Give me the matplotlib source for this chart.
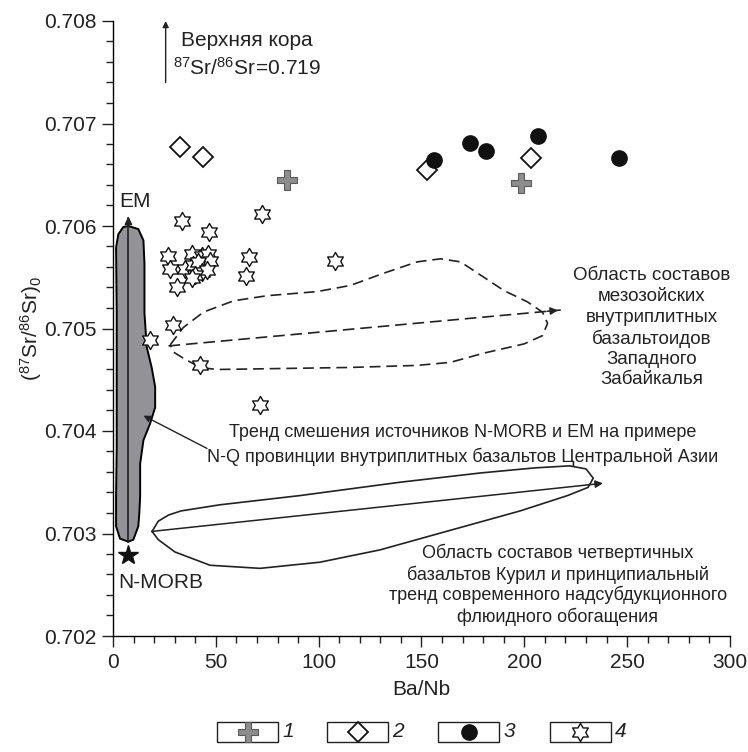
import matplotlib
matplotlib.use("Agg")
import matplotlib.pyplot as plt
from matplotlib.path import Path
from matplotlib.patches import Rectangle
from matplotlib.lines import Line2D
from matplotlib.ticker import MultipleLocator

plt.rcParams['font.family'] = ['Liberation Sans', 'DejaVu Sans']
plt.rcParams['mathtext.fontset'] = 'custom'
plt.rcParams['mathtext.rm'] = 'Liberation Sans'
plt.rcParams['mathtext.it'] = 'Liberation Sans:italic'
plt.rcParams['mathtext.bf'] = 'Liberation Sans:bold'

# ---------------- data ----------------
# 1: crosses
g1_x = [84.6, 198.6]
g1_y = [0.70645, 0.70642]
# 2: diamonds
g2_x = [32.6, 43.7, 152.8, 203.1]
g2_y = [0.70677, 0.70667, 0.70655, 0.70666]
# 3: filled circles
g3_x = [156.2, 173.6, 181.4, 206.7, 246.1]
g3_y = [0.70664, 0.70681, 0.70673, 0.70688, 0.70666]
# 4: stars
g4_x = [72.4, 33.5, 46.9, 65.9, 64.6, 107.8, 26.9, 27.8, 31.0, 38.3, 43.2, 46.4,
        47.2, 35.1, 39.1, 41.5, 43.2, 45.6, 39.9, 38.3, 29.4, 18.0, 42.4, 71.6]
g4_y = [0.70612, 0.70605, 0.70594, 0.70570, 0.70551, 0.70566, 0.70571, 0.70558,
        0.70540, 0.70573, 0.70571, 0.70573, 0.70566, 0.70558, 0.70562, 0.70565,
        0.70555, 0.70557, 0.70552, 0.70549, 0.70503, 0.70489, 0.70464, 0.70425]
# N-MORB
nmorb_x = [7.5]
nmorb_y = [0.70279]

# mixing field (grey)
mix_x = [7.5, 12.3, 14.8, 15.3, 15.3, 16.4, 18.8, 20.5, 20.5, 18.0, 14.8, 13.2,
         13.2, 12.8, 12.3, 9.9, 7.5, 3.4, 1.5, 1.5, 1.8, 1.8, 1.5, 2.6, 5.0]
mix_y = [0.70600, 0.70597, 0.70586, 0.70563, 0.70515, 0.70482, 0.70462, 0.70443,
         0.70423, 0.70407, 0.70391, 0.70368, 0.70336, 0.70320, 0.70307, 0.70294,
         0.70292, 0.70295, 0.70307, 0.70336, 0.70384, 0.70515, 0.70579, 0.70592,
         0.70599]
mix_trend_x = [7.5, 7.5]
mix_trend_y = [0.70292, 0.70612]

# Mesozoic field (dashed)
mes_x = [27.8, 34.2, 44.0, 58.6, 74.9, 99.2, 115.4, 131.7, 147.9, 159.3, 169.0,
         178.8, 190.1, 201.5, 208.8, 211.3, 208.8, 199.9, 180.4, 164.1, 147.9,
         115.4, 83.0, 50.5, 42.4, 34.2, 29.4, 27.8]
mes_y = [0.70484, 0.70501, 0.70516, 0.70527, 0.70532, 0.70536, 0.70542, 0.70554,
         0.70565, 0.70568, 0.70565, 0.70552, 0.70537, 0.70526, 0.70516, 0.70505,
         0.70493, 0.70485, 0.70476, 0.70467, 0.70464, 0.70462, 0.70461, 0.70460,
         0.70462, 0.70471, 0.70477, 0.70484]
mes_trend_x = [27.0, 217.7]
mes_trend_y = [0.70483, 0.70518]

# Kuril field (solid)
kur_x = [19.0, 22.0, 27.0, 33.0, 52.0, 90.9, 139.5, 178.4, 205.0, 222.0, 230.0,
         233.5, 231.0, 221.0, 197.9, 163.8, 129.8, 100.6, 71.5, 47.2, 30.1, 22.0, 19.0]
kur_y = [0.70302, 0.70312, 0.70318, 0.70322, 0.70328, 0.70337, 0.70350, 0.70359,
         0.70364, 0.70366, 0.70363, 0.70354, 0.70345, 0.70337, 0.70322, 0.70303,
         0.70284, 0.70272, 0.70266, 0.70269, 0.70282, 0.70294, 0.70302]
kur_trend_x = [18.8, 238.2]
kur_trend_y = [0.70302, 0.70349]

x_ticks = [0, 50, 100, 150, 200, 250, 300]
y_ticks = [0.702, 0.703, 0.704, 0.705, 0.706, 0.707, 0.708]
y_ticklabels = ['0.702', '0.703', '0.704', '0.705', '0.706', '0.707', '0.708']
legend_labels = ['1', '2', '3', '4']

# ---------------- figure ----------------
W, H = 748, 752
fig = plt.figure(figsize=(W / 100, H / 100), dpi=100)
ax = fig.add_axes([113 / W, 1 - 636 / H, (730 - 113) / W, (636 - 21) / H])
ax.set_xlim(0, 300)
ax.set_ylim(0.702, 0.708)
for s in ['top', 'right']:
    ax.spines[s].set_visible(False)
for s in ['left', 'bottom']:
    ax.spines[s].set_linewidth(1.0)
ax.set_xticks(x_ticks)
ax.set_yticks(y_ticks)
ax.set_yticklabels(y_ticklabels)
ax.xaxis.set_minor_locator(MultipleLocator(10))
ax.yaxis.set_minor_locator(MultipleLocator(0.0002))
ax.tick_params(which='major', direction='out', length=8, width=1.0, labelsize=15, pad=4,
               colors='#222222')
ax.tick_params(which='minor', direction='out', length=5, width=1.0, colors='#222222')
ax.set_xlabel('Ba/Nb', fontsize=15, labelpad=6, color='#222222')
ax.set_ylabel(r'$(^{87}\mathrm{Sr}/^{86}\mathrm{Sr})_0$', fontsize=15, color='#222222')
ax.yaxis.set_label_coords(-0.112, 0.5)

# mixing field
ax.fill(mix_x, mix_y, facecolor='#939397', edgecolor='black', lw=1.4, zorder=2)
ax.plot(mix_trend_x, [mix_trend_y[0], mix_trend_y[1] - 0.00004], color='#222222', lw=1.2, zorder=3)
ax.annotate('', xy=(mix_trend_x[1], mix_trend_y[1]),
            xytext=(mix_trend_x[1], mix_trend_y[1] - 0.00010),
            arrowprops=dict(arrowstyle='-|>', color='#222222', lw=1.2, mutation_scale=11), zorder=3)

# mesozoic dashed field
ax.plot(mes_x, mes_y, color='#222222', lw=1.2, ls=(0, (6.5, 3.5)), zorder=2)
ax.plot(mes_trend_x, mes_trend_y, color='#222222', lw=1.2, ls=(0, (7, 3.5)), zorder=2)
ax.annotate('', xy=(mes_trend_x[1], mes_trend_y[1]),
            xytext=(mes_trend_x[1] - 8, mes_trend_y[1] - 0.0000147),
            arrowprops=dict(arrowstyle='-|>', color='#222222', lw=1.1, mutation_scale=11), zorder=2)

# Kuril field
ax.plot(kur_x, kur_y, color='#222222', lw=1.2, zorder=2)
ax.annotate('', xy=(kur_trend_x[1], kur_trend_y[1]),
            xytext=(kur_trend_x[0], kur_trend_y[0]),
            arrowprops=dict(arrowstyle='-|>', color='#222222', lw=1.1, mutation_scale=11,
                            shrinkA=0, shrinkB=0), zorder=2)

# markers
star6 = Path.unit_regular_star(6, 0.58)
ax.plot(g4_x, g4_y, ls='none', marker=star6, ms=13, mfc='white', mec='#111111', mew=1.0, zorder=5)
ax.plot(g2_x, g2_y, ls='none', marker='D', ms=10, mfc='white', mec='#111111', mew=1.3, zorder=6)
ax.plot(g3_x, g3_y, ls='none', marker='o', ms=11, mfc='#111111', mec='#111111', zorder=7)
ax.plot(g1_x, g1_y, ls='none', marker='P', ms=14, mfc='#8d8d8d', mec='#5a5a5a', mew=0.8, zorder=7)
ax.plot(nmorb_x, nmorb_y, ls='none', marker='*', ms=15, mfc='#111111', mec='#111111', zorder=7)

# annotations
ax.annotate('', xy=(25.6, 0.70800), xytext=(25.6, 0.70740),
            arrowprops=dict(arrowstyle='-|>', color='#222222', lw=1.0, mutation_scale=9,
                            shrinkA=0, shrinkB=0))
ax.text(65, 0.70781, 'Верхняя кора', fontsize=15, ha='center', va='center', color='#222222')
ax.text(65, 0.70754, r'$^{87}\mathrm{Sr}/^{86}\mathrm{Sr}\!=\!0.719$', fontsize=15, ha='center', va='center', color='#222222')
ax.text(10.7, 0.70624, 'EM', fontsize=15, ha='center', va='center', color='#222222')
ax.text(23.0, 0.70252, 'N-MORB', fontsize=15, ha='center', va='center', color='#222222')

mes_lines = ['Область составов', 'мезозойских', 'внутриплитных', 'базальтоидов',
             'Западного', 'Забайкалья']
mes_text_y = [0.70552, 0.70531, 0.70511, 0.70490, 0.70470, 0.70450]
for t, yy in zip(mes_lines, mes_text_y):
    ax.text(262, yy, t, fontsize=13.5, ha='center', va='center', color='#222222', clip_on=False)

ax.text(170, 0.70399, 'Тренд смешения источников N-MORB и EM на примере',
        fontsize=13, ha='center', va='center', color='#222222')
ax.text(170, 0.70375, 'N-Q провинции внутриплитных базальтов Центральной Азии',
        fontsize=13, ha='center', va='center', color='#222222')
ax.annotate('', xy=(14.8, 0.70415), xytext=(45.7, 0.70383),
            arrowprops=dict(arrowstyle='-|>', color='#222222', lw=1.0, mutation_scale=10,
                            shrinkA=0, shrinkB=0))

kur_lines = ['Область составов четвертичных', 'базальтов Курил и принципиальный',
             'тренд современного надсубдукционного', 'флюидного обогащения']
kur_text_y = [0.70281, 0.70260, 0.70240, 0.70219]
for t, yy in zip(kur_lines, kur_text_y):
    ax.text(216.3, yy, t, fontsize=13, ha='center', va='center', color='#222222')

# legend boxes
box_cx = [247.5, 357.5, 469.0, 580.0]
box_w, box_h, box_cy = 61, 20, 731.5
leg_styles = [
    dict(marker='P', ms=14, mfc='#8d8d8d', mec='#5a5a5a', mew=0.8),
    dict(marker='D', ms=10, mfc='white', mec='#111111', mew=1.3),
    dict(marker='o', ms=11, mfc='#111111', mec='#111111'),
    dict(marker=star6, ms=13, mfc='white', mec='#111111', mew=1.0),
]
for cx, lab, st in zip(box_cx, legend_labels, leg_styles):
    fig.add_artist(Rectangle(((cx - box_w / 2) / W, 1 - (box_cy + box_h / 2) / H),
                             box_w / W, box_h / H, transform=fig.transFigure,
                             fill=False, edgecolor='#222222', lw=1.0))
    fig.add_artist(Line2D([cx / W], [1 - box_cy / H], transform=fig.transFigure, ls='none', **st))
    fig.text((cx + box_w / 2 + 10) / W, 1 - box_cy / H, lab, fontsize=15, style='italic',
             ha='center', va='center', color='#222222')

fig.savefig('out.png', dpi=100)
